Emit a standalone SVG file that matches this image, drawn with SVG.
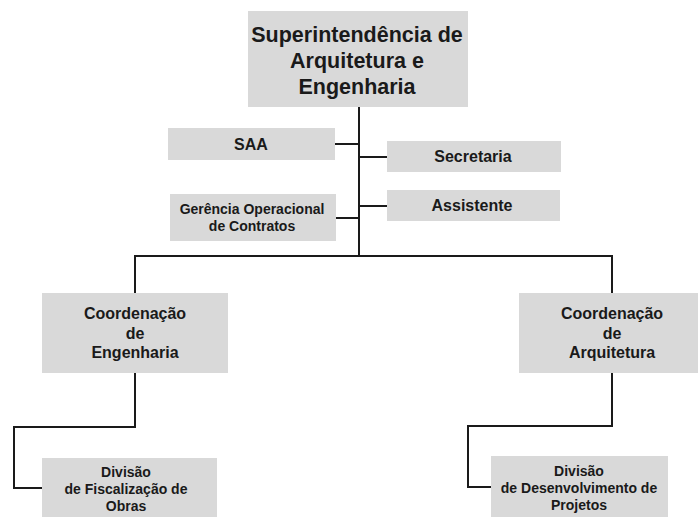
<svg xmlns="http://www.w3.org/2000/svg" width="698" height="517" viewBox="0 0 698 517">
<style>
.box{fill:#d9d9d9;}
.t{font-family:"Liberation Sans",Arial,sans-serif;font-weight:bold;fill:#1a1a1a;text-anchor:middle;}
.big{font-size:21.5px;}
.m{font-size:16px;}
.s{font-size:14px;}
.ln{fill:none;stroke:#1a1a1a;stroke-width:2;}
</style>
<rect width="698" height="517" fill="#ffffff"/>
<g id="connectors">
<line class="ln" x1="359" y1="107" x2="359" y2="256"/>
<line class="ln" x1="335" y1="144" x2="359" y2="144"/>
<line class="ln" x1="359" y1="157" x2="387" y2="157"/>
<line class="ln" x1="359" y1="206" x2="387" y2="206"/>
<line class="ln" x1="336" y1="218" x2="359" y2="218"/>
<polyline class="ln" points="135,293 135,256 612,256 612,293"/>
<polyline class="ln" points="135,373 135,427 14,427 14,488 42,488"/>
<polyline class="ln" points="612,373 612,426 468,426 468,487 491,487"/>
</g>
<g id="superintendencia">
<rect class="box" x="248" y="11" width="220" height="96"/>
<text class="t big" x="357" y="42">Superintendência de</text>
<text class="t big" x="357" y="68">Arquitetura e</text>
<text class="t big" x="357" y="94">Engenharia</text>
</g>
<g id="saa">
<rect class="box" x="168" y="128" width="167" height="32"/>
<text class="t m" x="251" y="150">SAA</text>
</g>
<g id="secretaria">
<rect class="box" x="387" y="141" width="174" height="31"/>
<text class="t m" x="473" y="162">Secretaria</text>
</g>
<g id="assistente">
<rect class="box" x="387" y="190" width="173" height="31"/>
<text class="t m" x="472" y="211">Assistente</text>
</g>
<g id="gerencia">
<rect class="box" x="170" y="194" width="166" height="47"/>
<text class="t s" x="252" y="214">Gerência Operacional</text>
<text class="t s" x="252" y="231">de Contratos</text>
</g>
<g id="coord-eng">
<rect class="box" x="42" y="293" width="186" height="80"/>
<text class="t m" x="135" y="319">Coordenação</text>
<text class="t m" x="135" y="339">de</text>
<text class="t m" x="135" y="358">Engenharia</text>
</g>
<g id="coord-arq">
<rect class="box" x="519" y="293" width="179" height="80"/>
<text class="t m" x="612" y="319">Coordenação</text>
<text class="t m" x="612" y="339">de</text>
<text class="t m" x="612" y="358">Arquitetura</text>
</g>
<g id="div-fisc">
<rect class="box" x="42" y="458" width="175" height="59"/>
<text class="t s" x="126" y="477">Divisão</text>
<text class="t s" x="126" y="494">de Fiscalização de</text>
<text class="t s" x="126" y="511">Obras</text>
</g>
<g id="div-desenv">
<rect class="box" x="491" y="456" width="177" height="61"/>
<text class="t s" x="579" y="476">Divisão</text>
<text class="t s" x="579" y="493">de Desenvolvimento de</text>
<text class="t s" x="579" y="510">Projetos</text>
</g>
</svg>
